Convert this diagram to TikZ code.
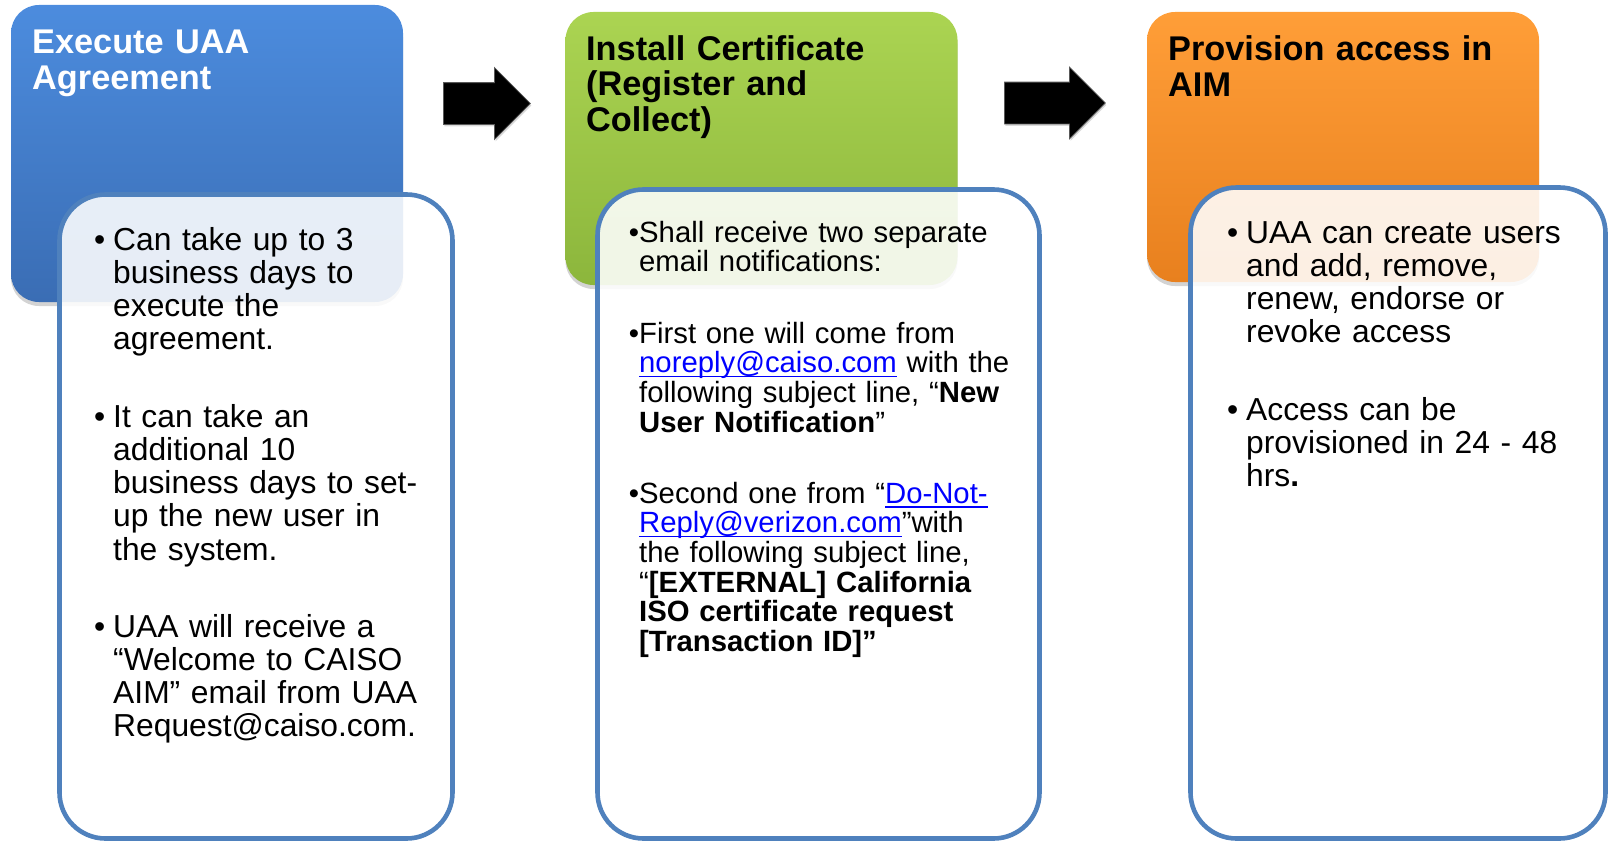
\documentclass[tikz,border=0pt]{standalone}
\usepackage{fontspec}
\setmainfont{Liberation Sans}
\usetikzlibrary{shapes.arrows,shadows}
\definecolor{frameblue}{RGB}{79,129,189}
\definecolor{linkblue}{RGB}{0,0,255}
\definecolor{bluetop}{RGB}{76,140,222}
\definecolor{bluebot}{RGB}{58,109,180}
\definecolor{greentop}{RGB}{171,212,82}
\definecolor{greenbot}{RGB}{140,182,60}
\definecolor{orangetop}{RGB}{255,158,56}
\definecolor{orangebot}{RGB}{232,128,30}
\newcommand{\lnk}[1]{\textcolor{linkblue}{\setbox0\hbox{#1}\rlap{\rule[-4.6pt]{\wd0}{1.7pt}}\box0}}
\newcommand{\bul}{\llap{\textbullet\hspace{8pt}}}

\begin{document}
\begin{tikzpicture}
  [x=1pt,y=-1pt,
   headbox/.style={rectangle,rounded corners=28pt,inner sep=0,minimum width=392pt,
     drop shadow={shadow xshift=0pt,shadow yshift=-4pt,opacity=.35}},
   headtext/.style={anchor=base west,inner sep=0,text width=380pt,align=left,
     font=\bfseries\fontsize{34.3}{35.8}\selectfont},
   textframe/.style={rectangle,rounded corners=46pt,inner sep=0,draw=frameblue,
     line width=4.6pt,fill=white,fill opacity=.88},
   point/.style={anchor=base west,inner sep=0,text width=380pt,align=left,
     font=\fontsize{31.8}{33.3}\selectfont},
   mpoint/.style={point,font=\fontsize{29.3}{29.7}\selectfont},
   blockarrow/.style={single arrow,single arrow head extend=15pt,minimum width=71pt,
     inner xsep=0,inner ysep=20.5pt,fill=black,draw=black!65,line width=.8pt,anchor=west,
     drop shadow={shadow xshift=1pt,shadow yshift=-2pt,opacity=.3}}]
  \useasboundingbox (0,0) rectangle (1608,843);

  % stages
  \node[headbox,minimum height=297pt,top color=bluetop,bottom color=bluebot] (s1) at (207,153.5) {};
  \node[headbox,minimum height=273pt,top color=greentop,bottom color=greenbot] (s2) at (761.5,148.5) {};
  \node[headbox,minimum height=270pt,top color=orangetop,bottom color=orangebot] (s3) at (1343,147) {};
  \node[headtext,text=white] (h1) at (32,54) {Execute UAA\\Agreement};
  \node[headtext] (h2) at (586,60) {Install Certificate\\(Register and\\Collect)};
  \node[headtext] (h3) at (1168,61) {Provision access in\\AIM};

  \node[blockarrow,minimum height=87pt] (a1) at (443,103.5) {};
  \node[blockarrow,minimum height=101pt] (a2) at (1004,103) {};

  % details
  \node[textframe,minimum width=393pt,minimum height=644pt] (f1) at (256,516.5) {};
  \node[textframe,minimum width=442pt,minimum height=649pt] (f2) at (818.5,514) {};
  \node[textframe,minimum width=415pt,minimum height=651pt] (f3) at (1398,513) {};

  \node[point] (p11) at (113,250) {\bul Can take up to 3\\business days to\\execute the\\agreement.};
  \node[point] (p12) at (113,427) {\bul It can take an\\additional 10\\business days to set-\\up the new user in\\the system.};
  \node[point] (p13) at (113,637) {\bul UAA will receive a\\“Welcome to CAISO\\AIM” email from UAA\\Request@caiso.com.};

  \node[mpoint] (p21) at (639,242) {\llap{\textbullet}Shall receive two separate\\email notifications:};
  \node[mpoint] (p22) at (639,343) {\llap{\textbullet}First one will come from\\\lnk{noreply@caiso.com} with the\\following subject line, “\textbf{New}\\\textbf{User Notification}”};
  \node[mpoint] (p23) at (639,503) {\llap{\textbullet}Second one from “\lnk{Do-Not-}\\\lnk{Reply@verizon.com}”with\\the following subject line,\\“\textbf{[EXTERNAL] California}\\\textbf{ISO certificate request}\\\textbf{[Transaction ID]”}};

  \node[point] (p31) at (1246,243) {\bul UAA can create users\\and add, remove,\\renew, endorse or\\revoke access};
  \node[point] (p32) at (1246,420) {\bul Access can be\\provisioned in 24 - 48\\hrs\textbf{.}};
\end{tikzpicture}
\end{document}
